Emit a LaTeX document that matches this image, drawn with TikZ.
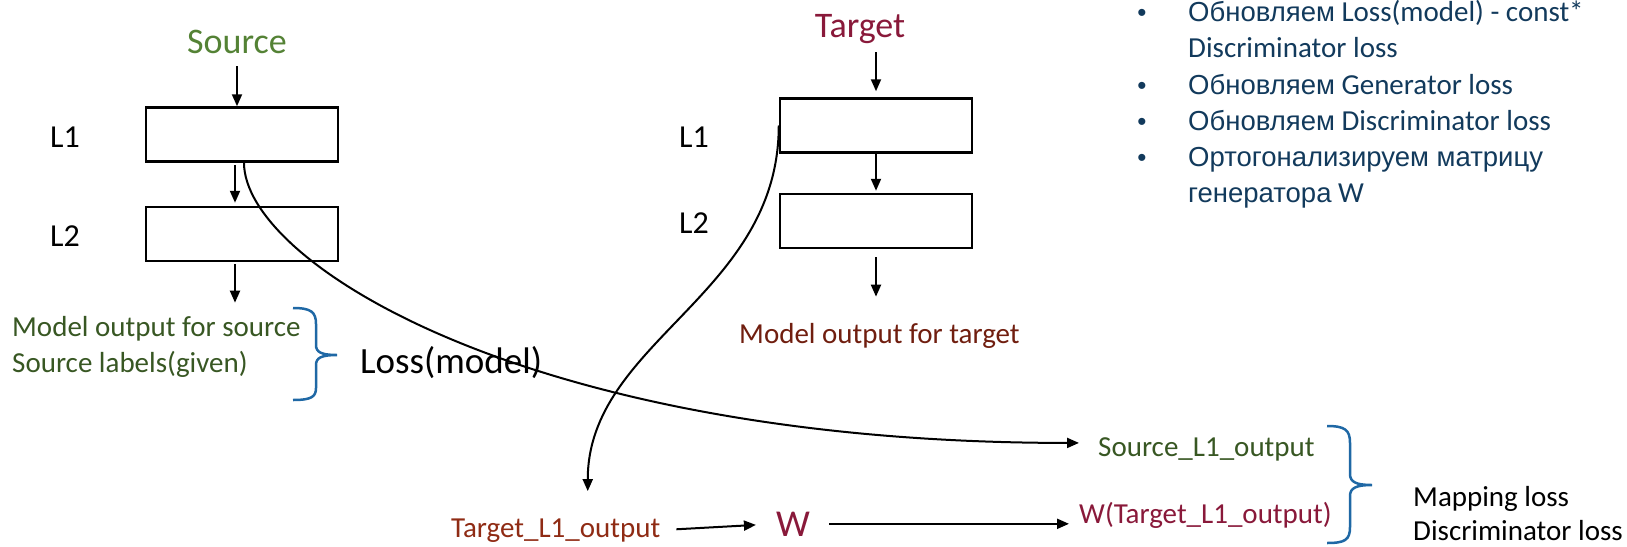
\documentclass[tikz,border=0pt]{standalone}
\usepackage{fontspec}
\setmainfont{Carlito}
\newfontfamily\cyrfont{Liberation Sans}
\usetikzlibrary{arrows.meta}
\definecolor{srcgreen}{RGB}{84,130,53}
\definecolor{srcdark}{RGB}{56,87,35}
\definecolor{tgtred}{RGB}{137,25,58}
\definecolor{tgtbrown}{RGB}{143,43,20}
\definecolor{tgtdark}{RGB}{112,30,15}
\definecolor{braceblue}{RGB}{31,104,165}
\definecolor{navy}{RGB}{18,58,92}
\newcommand{\rutext}[1]{{\cyrfont\fontsize{27.5}{33}\selectfont #1}}
\tikzset{
  lbox/.style={draw,line width=2.5pt,minimum width=192pt,minimum height=54pt,inner sep=0pt},
  ttl/.style={inner sep=0pt,font=\fontsize{36}{43}\selectfont},
  lyr/.style={inner sep=0pt,anchor=base,font=\fontsize{32}{38}\selectfont},
  txt/.style={inner sep=0pt,anchor=base west,font=\fontsize{29}{35}\selectfont},
  arr/.style={line width=2pt,-{Triangle[length=12pt,width=10pt]}},
  brc/.style={braceblue,line width=2.5pt},
  bul/.style={inner sep=0pt,anchor=base west,navy,font=\fontsize{29}{35}\selectfont},
}
\begin{document}
\begin{tikzpicture}[x=1pt,y=-1pt]
  \useasboundingbox (0,0) rectangle (1627,546);
  % Source network
  \node[ttl,srcgreen,anchor=base] (source) at (237,53) {Source};
  \node[lbox] (srcL1) at (242,134.5) {};
  \node[lbox] (srcL2) at (242,234) {};
  \node[lyr] (sL1) at (65,147) {L1};
  \node[lyr] (sL2) at (65,246) {L2};
  \node[txt,srcdark] (srcOutA) at (12,336) {Model output for source};
  \node[txt,srcdark] (srcOutB) at (12,372) {Source labels(given)};
  \node[ttl,anchor=base west,font=\fontsize{37}{44}\selectfont] (lossModel) at (360,373) {Loss(model)};
  \draw[arr,shorten <=13pt] (source.south) -- (source.south |- srcL1.north);
  \draw[arr,shorten <=2pt,shorten >=3pt] ([xshift=-7pt]srcL1.south) -- ([xshift=-7pt]srcL2.north);
  \draw[arr,shorten <=2pt,shorten >=13pt] ([xshift=-7pt]srcL2.south) -- ([xshift=-7pt]srcL2.south |- srcOutA.north);
  % Target network
  \node[ttl,tgtred,anchor=base] (target) at (860,37) {Target};
  \node[lbox] (tgtL1) at (876,125.5) {};
  \node[lbox] (tgtL2) at (876,221) {};
  \node[lyr] (tL1) at (694,147) {L1};
  \node[lyr] (tL2) at (694,233) {L2};
  \node[txt,tgtdark] (tgtOut) at (739,343) {Model output for target};
  \draw[arr,shorten <=9pt,shorten >=6pt] (target.south -| tgtL1.north) -- (tgtL1.north);
  \draw[arr,shorten >=2pt] (tgtL1.south) -- (tgtL2.north);
  \draw[arr,shorten <=8pt,shorten >=26pt] (tgtL2.south) -- (tgtL2.south |- tgtOut.north);
  % Mapping
  \node[txt,srcdark] (srcL1out) at (1098,456) {Source\_L1\_output};
  \node[txt,tgtbrown] (tgtL1out) at (451,537) {Target\_L1\_output};
  \node[ttl,tgtred,anchor=base,font=\fontsize{38}{45}\selectfont] (W) at (793,536) {W};
  \node[txt,tgtred] (wTgt) at (1079,523) {W(Target\_L1\_output)};
  \node[txt] (mapLoss) at (1413,506) {Mapping loss};
  \node[txt] (discLoss) at (1413,540) {Discriminator loss};
  \draw[arr] ([xshift=2pt]srcL1.south) .. controls +(0,100) and +(-550,0) .. ([xshift=-19pt,yshift=6pt]srcL1out.west);
  \draw[arr] (tgtL1.west) .. controls +(0,170) and +(0,-150) .. ([xshift=32pt,yshift=27pt]tgtL1out.north);
  \draw[arr,shorten <=16pt,shorten >=20pt] (tgtL1out.east) -- (W.west);
  \draw[arr,shorten <=19pt,shorten >=10pt] (W.east) -- (W.east -| wTgt.west);
  % Braces
  \draw[brc] (293,308) .. controls (311,308) and (316,312) .. (316,324) -- (316,345)
    .. controls (316,352) and (321,355) .. (337,355)
    .. controls (321,355) and (316,358) .. (316,365) -- (316,388)
    .. controls (316,397) and (311,400) .. (293,400);
  \draw[brc] (1327,426) .. controls (1345,426) and (1350,430) .. (1350,443) -- (1350,474)
    .. controls (1350,482) and (1356,485) .. (1372,485)
    .. controls (1356,485) and (1350,488) .. (1350,496) -- (1350,527)
    .. controls (1350,540) and (1345,543) .. (1327,543);
  % Training steps
  \foreach \y in {21,94,130,166}
    \node[navy,inner sep=0pt,anchor=base,font=\cyrfont\fontsize{26}{31}\selectfont] (dot\y) at (1142,\y) {•};
  \node[bul] (stepA) at (1188,21) {\rutext{Обновляем} Loss(model) - const*};
  \node[bul] (stepB) at (1188,57) {Discriminator loss};
  \node[bul] (stepC) at (1188,94) {\rutext{Обновляем} Generator loss};
  \node[bul] (stepD) at (1188,130) {\rutext{Обновляем} Discriminator loss};
  \node[bul] (stepE) at (1188,166) {\rutext{Ортогонализируем матрицу}};
  \node[bul] (stepF) at (1188,202) {\rutext{генератора} W};
\end{tikzpicture}
\end{document}
